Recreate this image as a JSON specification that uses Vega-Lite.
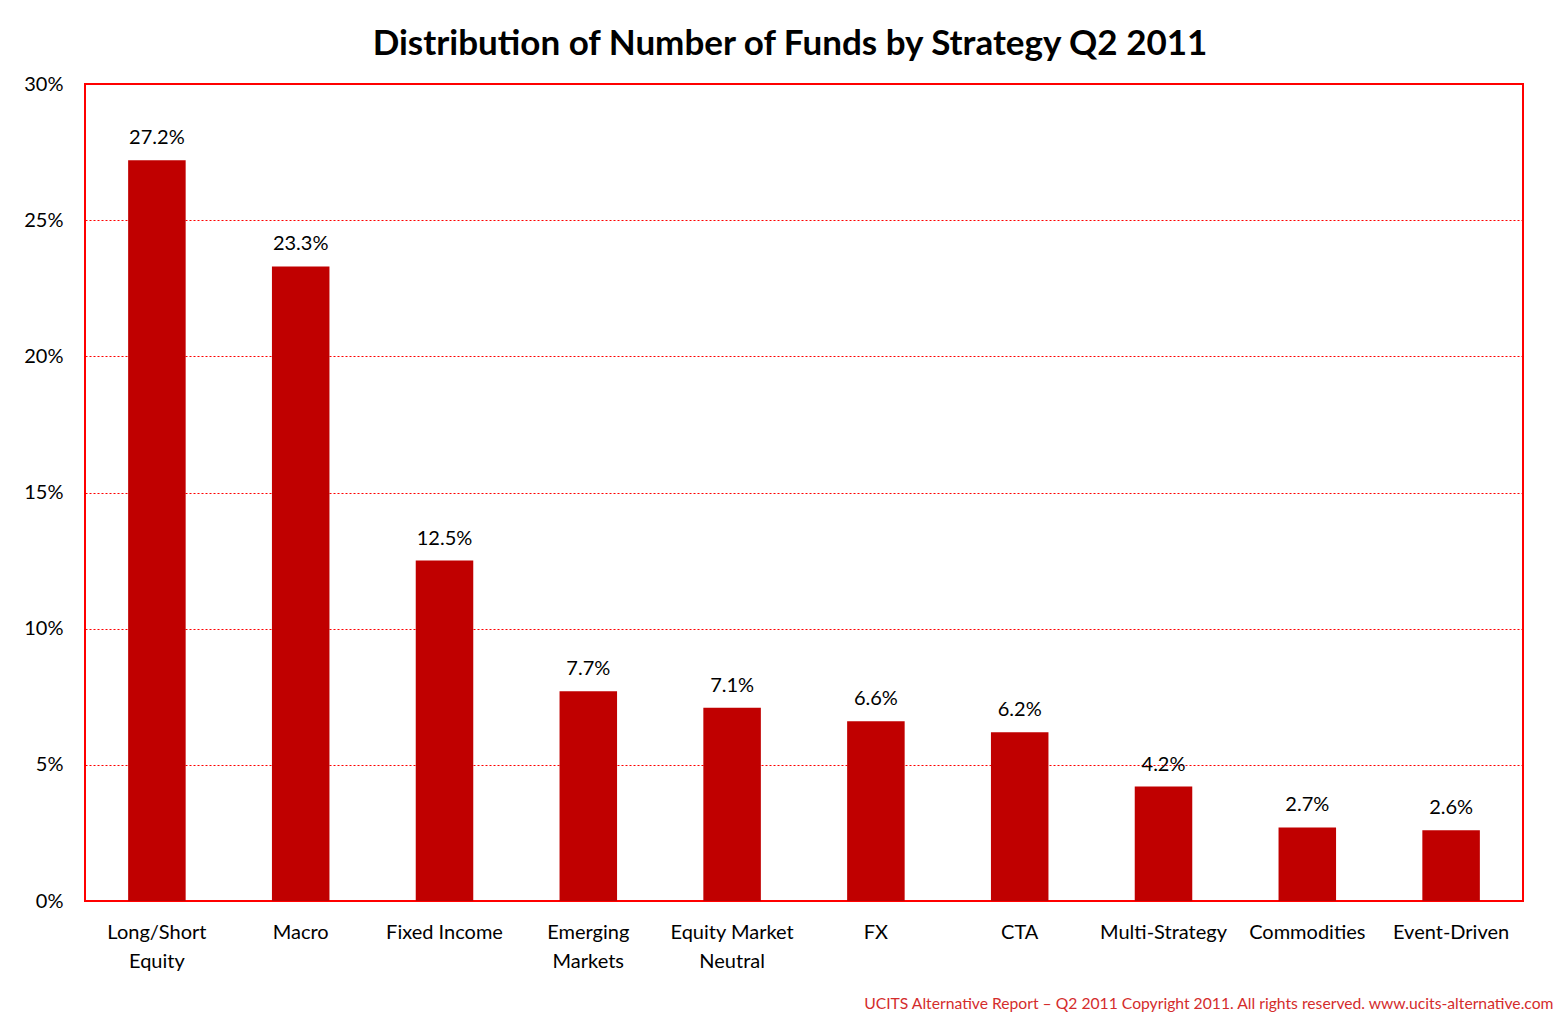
{
  "$schema": "https://vega.github.io/schema/vega-lite/v6.json",
  "width": 1438,
  "height": 817,
  "autosize": "none",
  "padding": {"left": 85, "top": 84, "right": 34, "bottom": 117},
  "background": "white",
  "title": {
    "text": "Distribution of Number of Funds by Strategy Q2 2011",
    "font": "Lato",
    "fontSize": 35,
    "fontWeight": "bold",
    "color": "#000000",
    "anchor": "middle",
    "dx": -14,
    "offset": 12
  },
  "config": {
    "view": {"stroke": "#FF0000", "strokeWidth": 2},
    "font": "Lato"
  },
  "data": {
    "values": [
      {"strategy": "Long/Short Equity", "share": 0.272},
      {"strategy": "Macro", "share": 0.233},
      {"strategy": "Fixed Income", "share": 0.125},
      {"strategy": "Emerging Markets", "share": 0.077},
      {"strategy": "Equity Market Neutral", "share": 0.071},
      {"strategy": "FX", "share": 0.066},
      {"strategy": "CTA", "share": 0.062},
      {"strategy": "Multi-Strategy", "share": 0.042},
      {"strategy": "Commodities", "share": 0.027},
      {"strategy": "Event-Driven", "share": 0.026}
    ]
  },
  "encoding": {
    "x": {
      "field": "strategy",
      "type": "nominal",
      "sort": null,
      "scale": {"paddingInner": 0.6, "paddingOuter": 0.3},
      "axis": {
        "title": "UCITS Alternative Report \u2013 Q2 2011 Copyright 2011. All rights reserved. www.ucits-alternative.com",
        "titleFont": "Lato",
        "titleFontSize": 15.7,
        "titleFontWeight": "normal",
        "titleColor": "#D42C2C",
        "titleAnchor": "end",
        "titleAlign": "right",
        "titleX": 1468,
        "titleY": 95,
        "labelAngle": 0,
        "labelFontSize": 20,
        "labelColor": "#000000",
        "labelPadding": 21,
        "labelLineHeight": 29,
        "labelBaseline": "top",
        "ticks": false,
        "domain": false,
        "labelExpr": "datum.label == 'Long/Short Equity' ? ['Long/Short', 'Equity'] : datum.label == 'Emerging Markets' ? ['Emerging', 'Markets'] : datum.label == 'Equity Market Neutral' ? ['Equity Market', 'Neutral'] : datum.label"
      }
    },
    "y": {
      "field": "share",
      "type": "quantitative",
      "scale": {"domain": [0, 0.3], "nice": false},
      "axis": {
        "title": null,
        "format": ".0%",
        "values": [0, 0.05, 0.1, 0.15, 0.2, 0.25, 0.3],
        "labelFontSize": 20,
        "labelColor": "#000000",
        "labelPadding": 22,
        "ticks": false,
        "domain": false,
        "grid": true,
        "gridColor": "#FF0000",
        "gridOpacity": 1,
        "gridDash": [2, 2],
        "gridWidth": 1
      }
    }
  },
  "layer": [
    {"mark": {"type": "bar", "color": "#C00000"}},
    {
      "mark": {"type": "text", "dy": -12, "fontSize": 20, "color": "#000000", "baseline": "bottom"},
      "encoding": {"text": {"field": "share", "type": "quantitative", "format": ".1%"}}
    }
  ]
}
